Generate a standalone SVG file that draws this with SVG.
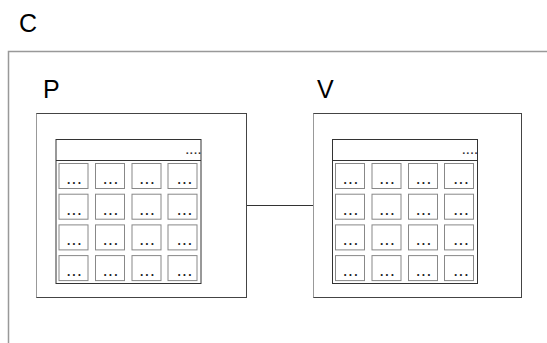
<svg xmlns="http://www.w3.org/2000/svg" width="547" height="343" viewBox="0 0 547 343">
<style>
.lbl{font-family:"Liberation Sans",Arial,sans-serif;font-size:25px;fill:#000}
.box{fill:#fff;stroke:#444;stroke-width:1}
.boxl{stroke:#999;stroke-width:1}
.panel{fill:#fff;stroke:#333;stroke-width:1}
.cell{fill:#fff;stroke:#888;stroke-width:1}
.dots{font-family:"Liberation Sans",Arial,sans-serif;font-size:12px;font-weight:bold;fill:#222;text-anchor:middle;letter-spacing:2px}
.hdots{font-family:"Liberation Sans",Arial,sans-serif;font-size:11px;font-weight:bold;fill:#333;text-anchor:end;letter-spacing:1px}
.conn{stroke:#333;stroke-width:1;fill:none}
</style>
<defs>
<g id="grid">
<rect class="panel" x="0.5" y="0.5" width="145" height="144"/>
<line class="panel" x1="0.5" y1="21.5" x2="145.5" y2="21.5"/>
<text class="hdots" x="146.5" y="15">....</text>
<g id="row">
<rect class="cell" x="3.5" y="24.5" width="29" height="25"/><text class="dots" x="19.5" y="45">...</text>
<rect class="cell" x="40" y="24.5" width="29" height="25"/><text class="dots" x="56" y="45">...</text>
<rect class="cell" x="76.5" y="24.5" width="29" height="25"/><text class="dots" x="92.5" y="45">...</text>
<rect class="cell" x="112.5" y="24.5" width="29" height="25"/><text class="dots" x="130" y="45">...</text>
</g>
<use href="#row" y="30.7"/>
<use href="#row" y="61.4"/>
<use href="#row" y="92.1"/>
</g>
</defs>
<g id="C">
<path d="M8.5 343V51.5H547" fill="none" stroke="#999" stroke-width="1.5"/>
<text class="lbl" x="19" y="32">C</text>
</g>
<g id="connectors">
<line class="conn" x1="246.5" y1="205.5" x2="313" y2="205.5"/>
</g>
<g id="P">
<text class="lbl" x="43" y="98">P</text>
<rect class="box" x="36.5" y="113.5" width="210" height="184"/>
<line class="boxl" x1="36.5" y1="113.5" x2="36.5" y2="297.5"/>
<use href="#grid" x="55.5" y="139"/>
</g>
<g id="V">
<text class="lbl" x="317" y="98">V</text>
<rect class="box" x="313.5" y="113.5" width="208" height="184"/>
<line class="boxl" x1="313.5" y1="113.5" x2="313.5" y2="297.5"/>
<use href="#grid" x="332" y="139"/>
</g>
</svg>
